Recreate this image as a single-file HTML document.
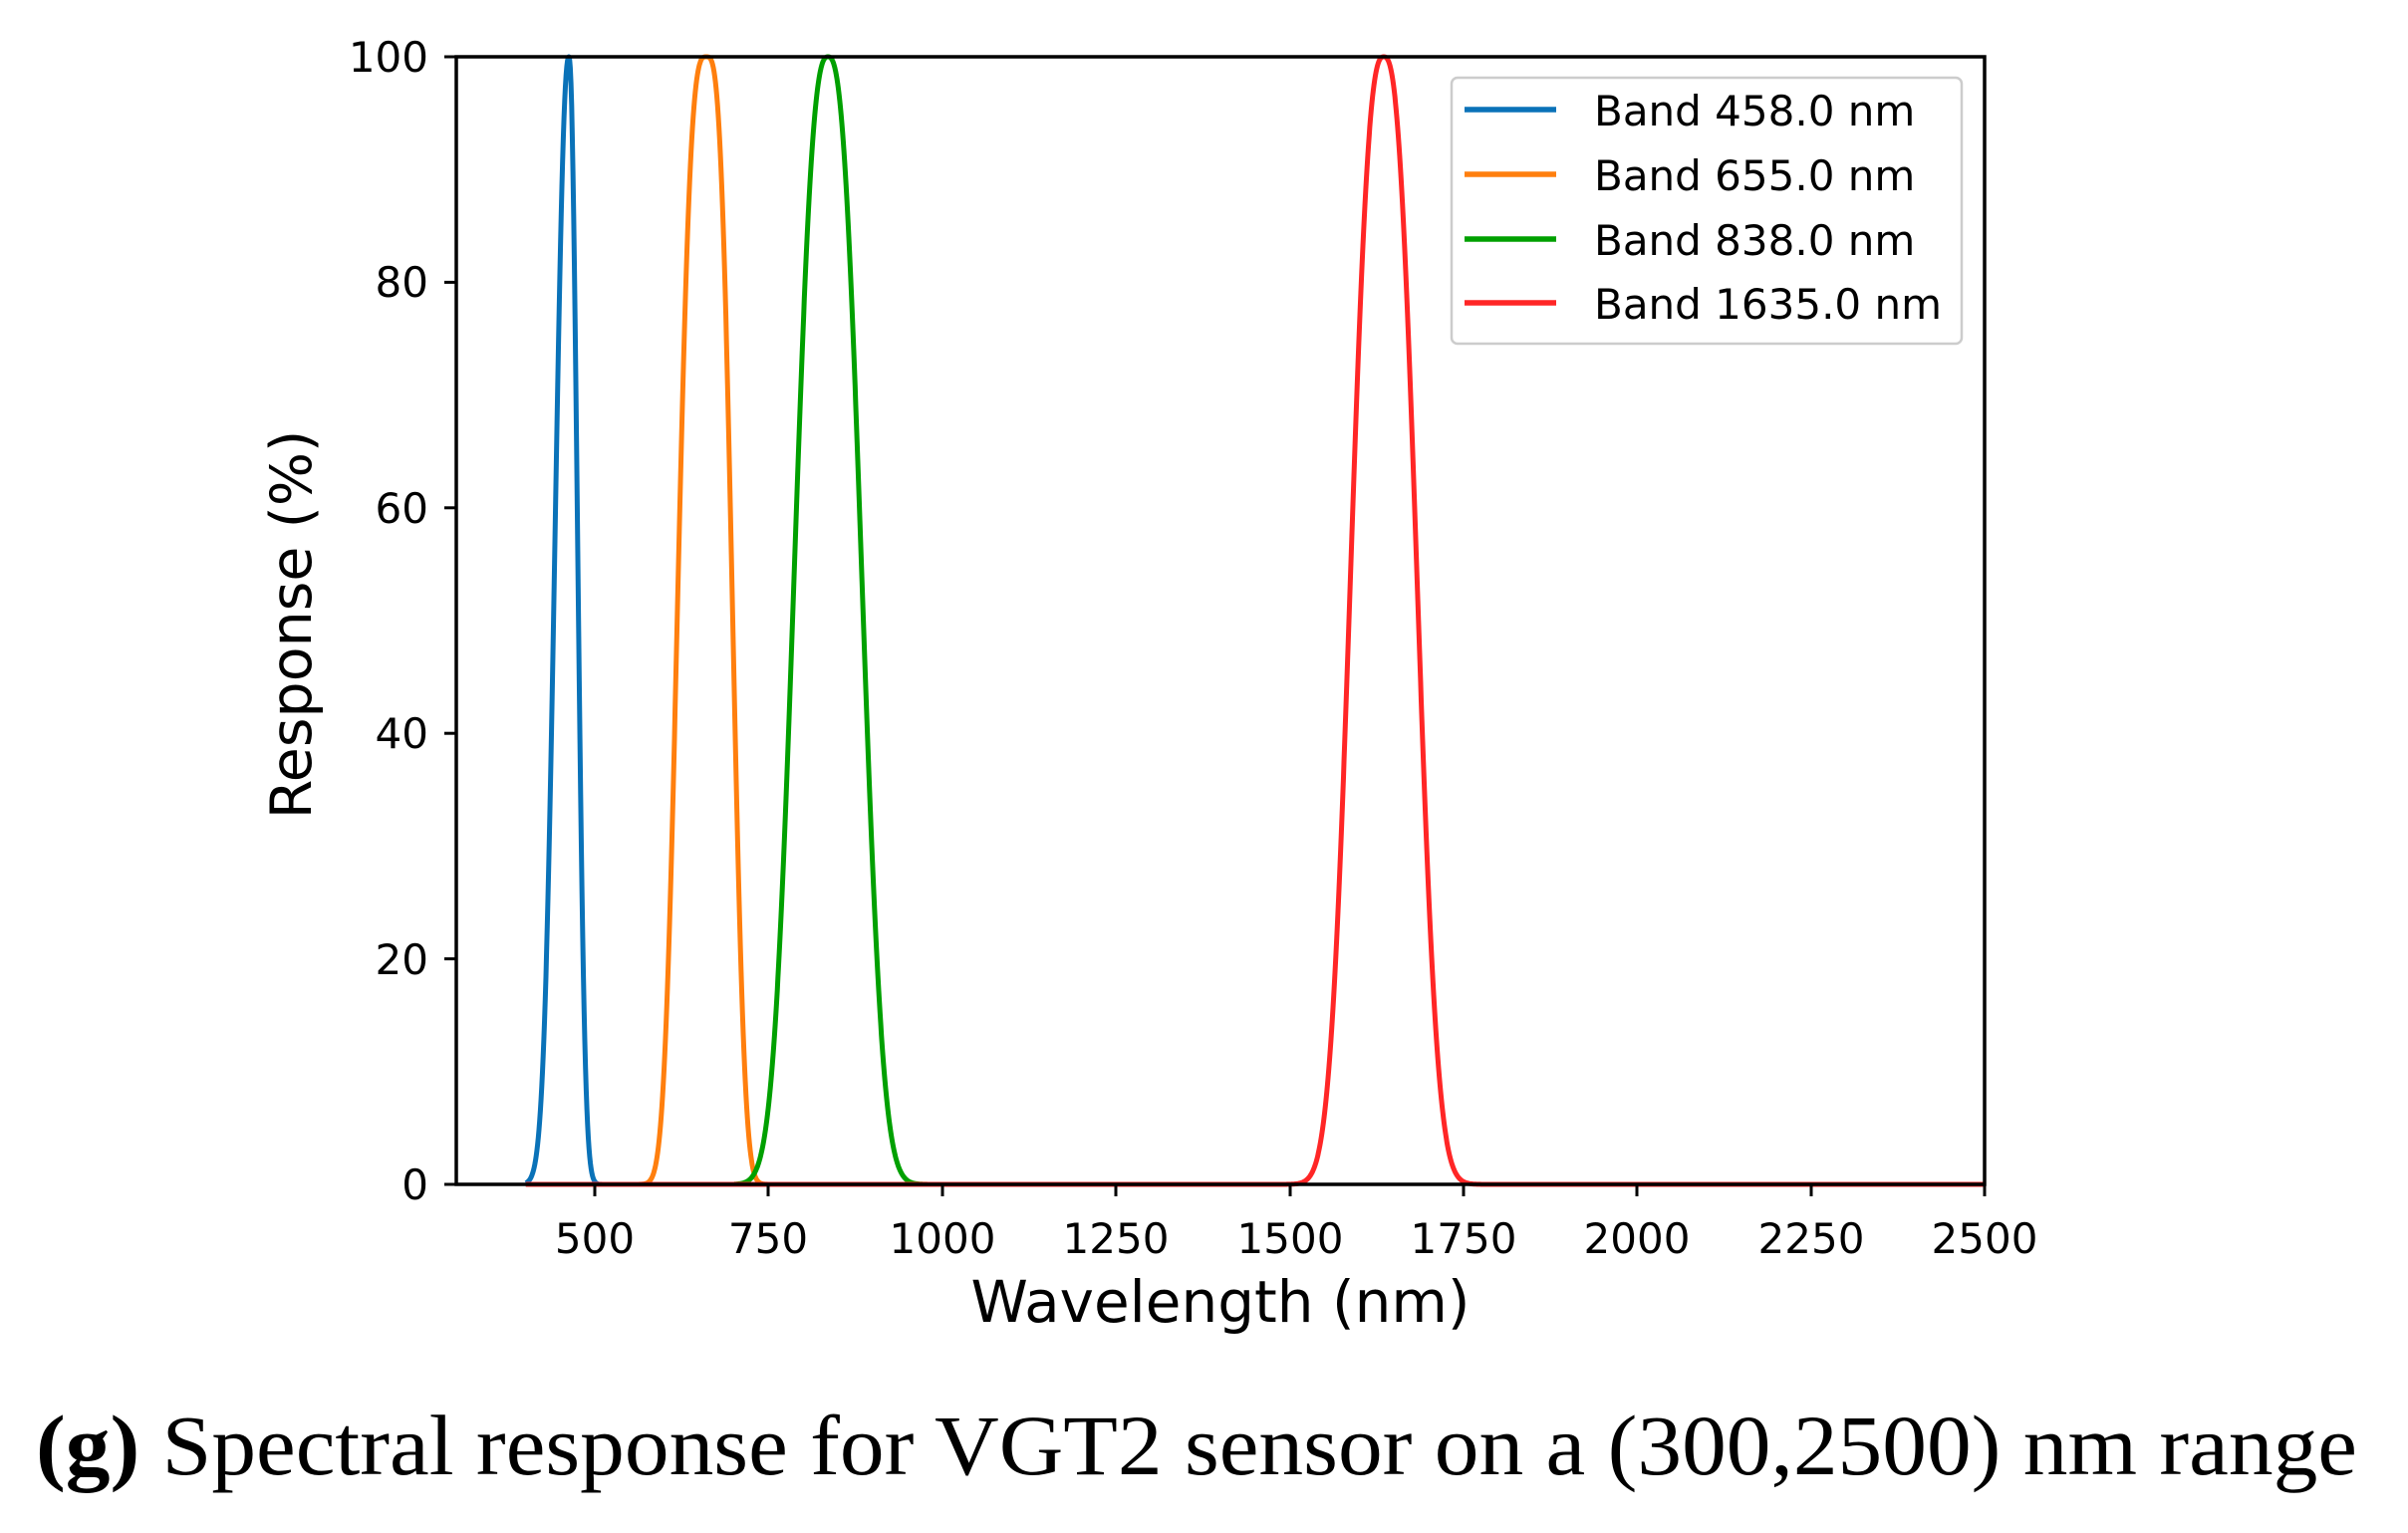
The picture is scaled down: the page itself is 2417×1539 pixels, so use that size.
<!DOCTYPE html>
<html><head><meta charset="utf-8"><style>
html,body{margin:0;padding:0;background:#fff;}
svg{display:block;}
</style></head><body>
<svg id="s" width="2417" height="1539" xmlns="http://www.w3.org/2000/svg" font-family="'DejaVu Sans','Liberation Sans',sans-serif">
<rect width="2417" height="1539" fill="#fff"/>
<g id="curves" fill="none" stroke-width="5" stroke-linejoin="round"></g>
<rect x="458" y="57" width="1534" height="1132" fill="none" stroke="#000" stroke-width="3.5"/>
<g stroke="#000" stroke-width="3">
<line x1="597" y1="1189" x2="597" y2="1201"/><line x1="771" y1="1189" x2="771" y2="1201"/>
<line x1="946" y1="1189" x2="946" y2="1201"/><line x1="1120" y1="1189" x2="1120" y2="1201"/>
<line x1="1295" y1="1189" x2="1295" y2="1201"/><line x1="1469" y1="1189" x2="1469" y2="1201"/>
<line x1="1643" y1="1189" x2="1643" y2="1201"/><line x1="1818" y1="1189" x2="1818" y2="1201"/>
<line x1="1992" y1="1189" x2="1992" y2="1201"/>
<line x1="446" y1="1189" x2="458" y2="1189"/><line x1="446" y1="962.6" x2="458" y2="962.6"/>
<line x1="446" y1="736.2" x2="458" y2="736.2"/><line x1="446" y1="509.8" x2="458" y2="509.8"/>
<line x1="446" y1="283.4" x2="458" y2="283.4"/><line x1="446" y1="57" x2="458" y2="57"/>
</g>
<g font-size="42" fill="#000" text-anchor="middle">
<text x="597" y="1258">500</text><text x="771" y="1258">750</text><text x="946" y="1258">1000</text>
<text x="1120" y="1258">1250</text><text x="1295" y="1258">1500</text><text x="1469" y="1258">1750</text>
<text x="1643" y="1258">2000</text><text x="1818" y="1258">2250</text><text x="1992" y="1258">2500</text>
</g>
<g font-size="42" fill="#000" text-anchor="end">
<text x="430" y="1204">0</text><text x="430" y="978">20</text><text x="430" y="751">40</text>
<text x="430" y="525">60</text><text x="430" y="298">80</text><text x="430" y="72">100</text>
</g>
<text x="1225" y="1327" font-size="58" text-anchor="middle">Wavelength (nm)</text>
<text transform="translate(312,627) rotate(-90)" font-size="57" text-anchor="middle">Response (%)</text>
<rect x="1457" y="78" width="512" height="267" rx="6" fill="#fff" stroke="#ccc" stroke-width="2.5"/>
<g stroke-width="5.5">
<line x1="1470" y1="110" x2="1562" y2="110" stroke="#0a72b8"/>
<line x1="1470" y1="175" x2="1562" y2="175" stroke="#ff7f0e"/>
<line x1="1470" y1="240" x2="1562" y2="240" stroke="#00a000"/>
<line x1="1470" y1="304" x2="1562" y2="304" stroke="#ff2626"/>
</g>
<g font-size="42" fill="#000">
<text x="1600" y="126">Band 458.0 nm</text>
<text x="1600" y="191">Band 655.0 nm</text>
<text x="1600" y="256">Band 838.0 nm</text>
<text x="1600" y="320">Band 1635.0 nm</text>
</g>
<text x="36" y="1480" font-size="86" font-family="'Liberation Serif',serif" textLength="2330" lengthAdjust="spacingAndGlyphs"><tspan font-weight="bold">(g)</tspan> Spectral response for VGT2 sensor on a (300,2500) nm range</text>
</svg>
<script>
(function(){
var g=document.getElementById('curves');
function X(nm){return 458+(nm-300)*0.6973;}
function Y(v){return 1189-v*11.32;}
var bands=[
 {c:462,l:22,r:14,p:2.2,a:400,b:540,col:'#0a72b8'},
 {c:660,l:42,r:38,p:3.2,a:560,b:800,col:'#ff7f0e'},
 {c:835,l:51,r:51,p:2.6,a:700,b:1000,col:'#00a000'},
 {c:1635,l:50,r:50,p:2.6,a:400,b:2500,col:'#ff2626'}];
bands.forEach(function(B){
 var d='';
 for(var x=B.a;x<=B.b;x+=1){
  var w=x<B.c?B.l:B.r;
  var v=100*Math.exp(-Math.LN2*Math.pow(Math.abs((x-B.c)/w),B.p));
  d+=(d?'L':'M')+X(x).toFixed(1)+','+Y(v).toFixed(1);
 }
 var p=document.createElementNS('http://www.w3.org/2000/svg','path');
 p.setAttribute('d',d);p.setAttribute('stroke',B.col);
 g.appendChild(p);
});
})();
</script>
</body></html>
